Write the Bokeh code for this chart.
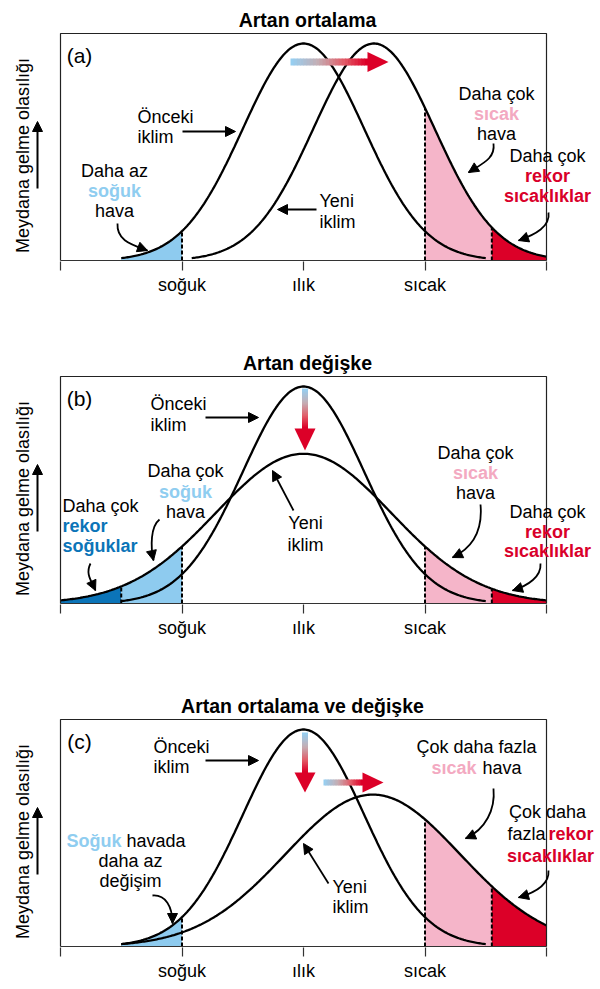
import numpy as np
from bokeh.plotting import figure
from bokeh.models import Range1d, FixedTicker, Arrow, NormalHead
from bokeh.layouts import column
from bokeh.core.properties import value
from bokeh.embed import file_html
from bokeh.resources import INLINE

# ---------------- data ----------------
titles = ["Artan ortalama", "Artan değişke", "Artan ortalama ve değişke"]
panel_tags = ["(a)", "(b)", "(c)"]
tick_values = [0, 1, 2, 3, 4]
tick_labels = ["", "soğuk", "ılık", "sıcak", ""]
y_label = "Meydana gelme olasılığı"

# previous climate (normal curve parameters)
old_mean = [2.0, 2.0, 2.0]
old_sd = [0.5, 0.5, 0.5]
old_peak = [1.0, 1.0, 1.0]
old_start = [0.5, 0.5, 0.5]
old_end = [3.5, 3.5, 3.5]
# new climate
new_mean = [2.58, 2.0, 2.57]
new_sd = [0.5, 0.72, 0.72]
new_peak = [1.0, 0.69, 0.70]
new_start = [1.08, 0.0, 0.5]
new_end = [4.0, 4.0, 4.0]

record_cold_edge = 0.5
cold_edge = 1.0
hot_edge = 3.0
record_hot_edge = 3.55

# ---------------- styling / layout ----------------
FONT = value("Liberation Sans")
LIGHT_BLUE = "#8ecbef"
DARK_BLUE = "#0b74b8"
PINK = "#f5b5c9"
RED = "#dc0028"
TXT_BLUE = "#8fcdf0"
TXT_PINK = "#f3a9c1"
TXT_RED = "#d9002a"

W = 600
SX = 121.5      # px per x unit
SY = 217.0      # px per y unit
X0 = 60         # page x of x=0
FRAME_H = 253
TSHIFT = -7     # correction for svg text baseline placement


def X(px):
    return (px - X0) / SX


def Y(dy):
    return (252 - dy) / SY


def gauss(x, m, s, pk):
    return pk * np.exp(-0.5 * ((x - m) / s) ** 2)


def interp_color(t):
    stops = [(0.0, (150, 206, 240)), (0.35, (196, 174, 180)),
             (0.7, (226, 92, 104)), (1.0, (220, 0, 40))]
    for (t0, c0), (t1, c1) in zip(stops[:-1], stops[1:]):
        if t <= t1:
            f = (t - t0) / (t1 - t0)
            c = [int(round(a + (b - a) * f)) for a, b in zip(c0, c1)]
            return "#%02x%02x%02x" % tuple(c)
    return "#dc0028"


def grad_arrow_h(p, px0, px1, dyc, thick, head_len, head_half):
    n = 24
    edges = np.linspace(px0, px1, n + 1)
    p.quad(left=[X(e) for e in edges[:-1]], right=[X(e + 0.6) for e in edges[1:]],
           top=[Y(dyc - thick / 2)] * n, bottom=[Y(dyc + thick / 2)] * n,
           fill_color=[interp_color(i / (n - 1)) for i in range(n)], line_color=None)
    p.patch([X(px1), X(px1 + head_len), X(px1)],
            [Y(dyc - head_half), Y(dyc), Y(dyc + head_half)],
            fill_color=RED, line_color=None)


def grad_arrow_v(p, pxc, dy0, dy1, thick, head_len, head_half):
    n = 20
    edges = np.linspace(dy0, dy1, n + 1)
    p.quad(left=[X(pxc - thick / 2)] * n, right=[X(pxc + thick / 2)] * n,
           top=[Y(e) for e in edges[:-1]], bottom=[Y(e + 0.6) for e in edges[1:]],
           fill_color=[interp_color(i / (n - 1)) for i in range(n)], line_color=None)
    p.patch([X(pxc - head_half), X(pxc), X(pxc + head_half)],
            [Y(dy1), Y(dy1 + head_len), Y(dy1)],
            fill_color=RED, line_color=None)


def straight_arrow(p, a, b, lw=1.8, size=10):
    p.add_layout(Arrow(end=NormalHead(size=size, fill_color="black", line_color="black"),
                       x_start=X(a[0]), y_start=Y(a[1]), x_end=X(b[0]), y_end=Y(b[1]),
                       line_width=lw, line_color="black"))


def curved_arrow(p, s, c0, c1, e):
    p.bezier(x0=[X(s[0])], y0=[Y(s[1])], x1=[X(e[0])], y1=[Y(e[1])],
             cx0=[X(c0[0])], cy0=[Y(c0[1])], cx1=[X(c1[0])], cy1=[Y(c1[1])],
             line_width=1.8, line_color="black")
    st = (c1[0] + 0.6 * (e[0] - c1[0]), c1[1] + 0.6 * (e[1] - c1[1]))
    straight_arrow(p, st, e, lw=1.8, size=10)


def add_text(p, items, size="18px"):
    for (t, px, dy, align, color, bold) in items:
        p.text(x=[X(px)], y=[Y(dy + TSHIFT)], text=[t], text_font=FONT, text_font_size=size,
               text_align=align, text_baseline="alphabetic", text_color=color,
               text_font_style="bold" if bold else "normal")


K = "black"
texts = [
    [("Önceki", 137, 115, "left", K, False), ("iklim", 137, 135, "left", K, False),
     ("Daha az", 114, 169, "center", K, False), ("soğuk", 114, 189, "center", TXT_BLUE, True),
     ("hava", 114, 209, "center", K, False),
     ("Yeni", 319, 199, "left", K, False), ("iklim", 319, 220, "left", K, False),
     ("Daha çok", 496, 92, "center", K, False), ("sıcak", 496, 112, "center", TXT_PINK, True),
     ("hava", 496, 132, "center", K, False),
     ("Daha çok", 547, 154, "center", K, False), ("rekor", 547, 174, "center", TXT_RED, True),
     ("sıcaklıklar", 547, 194, "center", TXT_RED, True)],
    [("Önceki", 150, 59, "left", K, False), ("iklim", 150, 80, "left", K, False),
     ("Daha çok", 185, 126, "center", K, False), ("soğuk", 185, 147, "center", TXT_BLUE, True),
     ("hava", 185, 167, "center", K, False),
     ("Daha çok", 62, 161, "left", K, False), ("rekor", 62, 181, "left", DARK_BLUE, True),
     ("soğuklar", 62, 201, "left", DARK_BLUE, True),
     ("Yeni", 305, 178, "center", K, False), ("iklim", 305, 200, "center", K, False),
     ("Daha çok", 475, 108, "center", K, False), ("sıcak", 475, 128, "center", TXT_PINK, True),
     ("hava", 475, 148, "center", K, False),
     ("Daha çok", 547, 167, "center", K, False), ("rekor", 547, 187, "center", TXT_RED, True),
     ("sıcaklıklar", 547, 206, "center", TXT_RED, True)],
    [("Önceki", 153, 59, "left", K, False), ("iklim", 153, 79, "left", K, False),
     ("Soğuk", 121, 153, "right", TXT_BLUE, True), ("havada", 126, 153, "left", K, False),
     ("daha az", 130, 173, "center", K, False), ("değişim", 130, 193, "center", K, False),
     ("Yeni", 332, 199, "left", K, False), ("iklim", 332, 219, "left", K, False),
     ("Çok daha fazla", 476, 59, "center", K, False),
     ("sıcak", 476, 80, "right", TXT_PINK, True), ("hava", 482, 80, "left", K, False),
     ("Çok daha", 547, 124, "center", K, False),
     ("fazla", 545, 146, "right", K, False), ("rekor", 548, 146, "left", TXT_RED, True),
     ("sıcaklıklar", 550, 168, "center", TXT_RED, True)],
]

straight = [
    [((182, 123), (235, 123)), ((316, 201), (277, 201))],
    [((205, 66), (258, 66)), ((293, 159), (272, 119))],
    [((205, 66), (258, 66)), ((328, 189), (303, 149))],
]

curved = [
    [((117, 215), (116, 232), (131, 236), (147, 242)),
     ((493, 135), (495, 150), (482, 155), (468, 164)),
     ((548, 204), (550, 218), (535, 226), (518, 232))],
    [((159, 168), (150, 175), (150, 195), (153, 209)),
     ((90, 212), (85, 222), (90, 228), (95, 239)),
     ((480, 153), (482, 175), (475, 195), (452, 206)),
     ((540, 212), (541, 225), (528, 234), (512, 239))],
    [((152, 201), (165, 200), (172, 212), (172, 229)),
     ((493, 94), (495, 115), (485, 135), (465, 144)),
     ((548, 176), (549, 190), (535, 198), (518, 203))],
]

fills = [
    [("old", record_cold_edge, cold_edge, LIGHT_BLUE), ("new", hot_edge, record_hot_edge, PINK),
     ("new", record_hot_edge, 4.0, RED)],
    [("new", 0.0, record_cold_edge, DARK_BLUE), ("new", record_cold_edge, cold_edge, LIGHT_BLUE),
     ("new", hot_edge, record_hot_edge, PINK), ("new", record_hot_edge, 4.0, RED)],
    [("old", record_cold_edge, cold_edge, LIGHT_BLUE), ("new", hot_edge, record_hot_edge, PINK),
     ("new", record_hot_edge, 4.0, RED)],
]
dashes = [
    [("old", cold_edge), ("new", hot_edge), ("new", record_hot_edge)],
    [("new", record_cold_edge), ("new", cold_edge), ("new", hot_edge), ("new", record_hot_edge)],
    [("old", cold_edge), ("new", hot_edge), ("new", record_hot_edge)],
]
title_x = [307, 307, 302]
pad_top = [8, 0, 0]          # first figure starts at page top
bottom_border = [90, 90, 38]


def make_panel(i):
    p = figure(width=W, height=FRAME_H + pad_top[i] + bottom_border[i],
               x_range=Range1d(X(0), X(W)), y_range=Range1d(Y(253), Y(-pad_top[i])),
               output_backend="svg", toolbar_location=None,
               min_border_left=0, min_border_right=0, min_border_top=0,
               min_border_bottom=bottom_border[i])
    p.yaxis.visible = False
    p.grid.visible = False
    p.outline_line_color = None
    p.background_fill_color = "white"
    p.border_fill_color = "white"

    ax = p.xaxis[0]
    ax.ticker = FixedTicker(ticks=tick_values)
    ax.major_label_overrides = {v: l for v, l in zip(tick_values, tick_labels)}
    ax.axis_line_color = None
    ax.major_tick_in = 0
    ax.major_tick_out = 9
    ax.major_tick_line_color = "#333333"
    ax.major_tick_line_width = 1.2
    ax.minor_tick_line_color = None
    ax.major_label_text_font = "Liberation Sans"
    ax.major_label_text_font_size = "18px"
    ax.major_label_text_color = "black"
    ax.major_label_standoff = 4

    curves = {
        "old": (old_mean[i], old_sd[i], old_peak[i], old_start[i], old_end[i]),
        "new": (new_mean[i], new_sd[i], new_peak[i], new_start[i], new_end[i]),
    }

    for (c, a, b, col) in fills[i]:
        m, s, pk, _, _ = curves[c]
        xs = np.linspace(a, b, 80)
        p.varea(x=xs, y1=np.zeros_like(xs), y2=gauss(xs, m, s, pk), fill_color=col)

    for (c, xv) in dashes[i]:
        m, s, pk, _, _ = curves[c]
        p.segment(x0=[xv], y0=[0], x1=[xv], y1=[gauss(xv, m, s, pk)],
                  line_color="black", line_width=2, line_dash="4 2")

    for c in ("old", "new"):
        m, s, pk, a, b = curves[c]
        xs = np.linspace(a, b, 300)
        p.line(xs, gauss(xs, m, s, pk), line_color="black", line_width=2.3)

    top = Y(25)
    p.line([0, 0, 4, 4], [0, top, top, 0], line_color="#222222", line_width=1.2)
    p.line([0, 4], [0, 0], line_color="#333333", line_width=1.2)

    # title, tag, y label
    p.text(x=[X(title_x[i])], y=[Y(18 + TSHIFT)], text=[titles[i]], text_font=FONT,
           text_font_size="19.5px", text_font_style="bold", text_align="center",
           text_baseline="alphabetic", text_color="black")
    p.text(x=[X(79)], y=[Y(54 + TSHIFT)], text=[panel_tags[i]], text_font=FONT,
           text_font_size="21px", text_align="center", text_baseline="alphabetic",
           text_color="black")
    p.text(x=[X(22)], y=[Y(147)], text=[y_label], text_font=FONT,
           text_font_size="18px", text_align="center", text_baseline="middle",
           angle=np.pi / 2, text_color="black")
    straight_arrow(p, (37, 180), (37, 113), lw=2, size=10)

    add_text(p, texts[i])
    for a, b in straight[i]:
        straight_arrow(p, a, b)
    for s, c0, c1, e in curved[i]:
        curved_arrow(p, s, c0, c1, e)

    if i == 0:
        grad_arrow_h(p, 290, 367, 53.5, 7, 21, 10)
    elif i == 1:
        grad_arrow_v(p, 304.5, 37, 77, 6, 22, 10.5)
    else:
        grad_arrow_v(p, 304.5, 38, 78, 6, 20, 10.5)
        grad_arrow_h(p, 323, 362, 88, 6, 21, 10)
    return p


layout = column(make_panel(0), make_panel(1), make_panel(2))
open("out.html", "w").write(file_html(layout, INLINE))
